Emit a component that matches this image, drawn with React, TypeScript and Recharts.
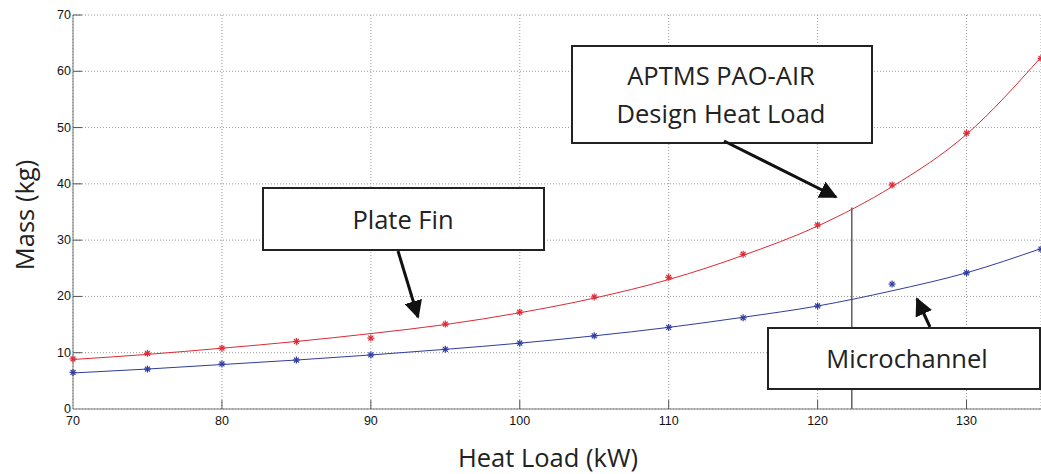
import {
  ComposedChart,
  Line,
  XAxis,
  YAxis,
  CartesianGrid,
  ReferenceLine,
} from "recharts";

// heat load steps (kW)
const heatLoad = [70, 75, 80, 85, 90, 95, 100, 105, 110, 115, 120, 125, 130, 135];

const plateFinPts = [8.9, 9.9, 10.8, 12.0, 12.6, 15.1, 17.2, 19.9, 23.4, 27.5, 32.7, 39.8, 49.0, 62.3];
const microPts = [6.5, 7.1, 8.0, 8.7, 9.6, 10.6, 11.7, 13.0, 14.5, 16.2, 18.3, 22.2, 24.2, 28.4];

// fitted curves (kg)
const plateFinFit = [8.8, 9.7, 10.8, 12.0, 13.4, 15.0, 17.1, 19.7, 23.0, 27.3, 32.5, 39.5, 48.8, 62.5];
const microFit = [6.4, 7.1, 7.9, 8.7, 9.6, 10.6, 11.7, 13.0, 14.5, 16.3, 18.3, 21.0, 24.2, 28.5];

const xTicks = [70, 80, 90, 100, 110, 120, 130];
const yTicks = [0, 10, 20, 30, 40, 50, 60, 70];

const designLoad = 122.3;
const designMass = 35.8;

const RED = "#dd2a35";
const BLUE = "#2f3c9e";

const data = heatLoad.map((x, i) => ({
  x,
  pf: plateFinPts[i],
  mc: microPts[i],
  pfFit: plateFinFit[i],
  mcFit: microFit[i],
}));

const Star = (color: string) => (props: any) => {
  const { cx, cy } = props;
  if (cx == null || cy == null) return null;
  const r = 3.5;
  const d = r * 0.7;
  return (
    <g stroke={color} strokeWidth={1.2}>
      <line x1={cx - r} y1={cy} x2={cx + r} y2={cy} />
      <line x1={cx} y1={cy - r} x2={cx} y2={cy + r} />
      <line x1={cx - d} y1={cy - d} x2={cx + d} y2={cy + d} />
      <line x1={cx - d} y1={cy + d} x2={cx + d} y2={cy - d} />
    </g>
  );
};

const XTick = (props: any) => {
  const { x, y, payload } = props;
  return (
    <g>
      {payload.value !== 70 && (
        <line x1={x} y1={409} x2={x} y2={400} stroke="#555" strokeWidth={1} />
      )}
      <text x={x} y={y + 8} textAnchor="middle" fontSize={12.5} fill="#111"
        fontFamily="Liberation Sans, Arial, sans-serif">
        {payload.value}
      </text>
    </g>
  );
};

const YTick = (props: any) => {
  const { x, y, payload } = props;
  return (
    <g>
      {payload.value !== 0 && (
        <line x1={73} y1={y} x2={82} y2={y} stroke="#555" strokeWidth={1} />
      )}
      <text x={x + 6} y={y + 4} textAnchor="end" fontSize={12.5} fill="#111"
        fontFamily="Liberation Sans, Arial, sans-serif">
        {payload.value}
      </text>
    </g>
  );
};

const labelFont = "'Open Sans', Lato, sans-serif";

export default function App() {
  return (
    <div style={{ position: "relative", width: 1041, height: 474, background: "#fff" }}>
      <style>{`body{margin:0}`}</style>
      <ComposedChart
        width={1041}
        height={474}
        data={data}
        margin={{ top: 15, right: 0, left: 33, bottom: 35 }}
      >
        <CartesianGrid stroke="#999" strokeDasharray="1 2" />
        <XAxis
          dataKey="x"
          type="number"
          domain={[70, 135]}
          ticks={xTicks}
          height={30}
          stroke="#777"
          tickLine={false}
          tick={<XTick />}
          interval={0}
        />
        <YAxis
          type="number"
          domain={[0, 70]}
          ticks={yTicks}
          width={40}
          stroke="#777"
          tickLine={false}
          tick={<YTick />}
          interval={0}
        />
        <ReferenceLine
          segment={[
            { x: designLoad, y: 0 },
            { x: designLoad, y: designMass },
          ]}
          stroke="#111"
          strokeWidth={1}
        />
        <Line dataKey="pfFit" type="monotone" stroke={RED} strokeWidth={1} dot={false} isAnimationActive={false} />
        <Line dataKey="mcFit" type="monotone" stroke={BLUE} strokeWidth={1} dot={false} isAnimationActive={false} />
        <Line dataKey="pf" stroke="none" dot={Star(RED)} activeDot={false} isAnimationActive={false} />
        <Line dataKey="mc" stroke="none" dot={Star(BLUE)} activeDot={false} isAnimationActive={false} />
      </ComposedChart>

      <svg
        width={1041}
        height={474}
        style={{ position: "absolute", left: 0, top: 0, pointerEvents: "none" }}
      >
        <defs>
          <marker id="arr" viewBox="0 0 10 10" refX="9" refY="5" markerWidth="6" markerHeight="6" orient="auto">
            <path d="M0,0 L10,5 L0,10 z" fill="#111" />
          </marker>
        </defs>

        {/* axis titles */}
        <text x={34} y={215} transform="rotate(-90 34 215)" textAnchor="middle" fontSize={25.5}
          fontFamily={labelFont} fill="#222">
          Mass (kg)
        </text>
        <text x={548} y={467} textAnchor="middle" fontSize={25.5} fontFamily={labelFont} fill="#222">
          Heat Load (kW)
        </text>

        {/* Plate Fin callout */}
        <rect x={263} y={188} width={281} height={62} fill="#fff" stroke="#222" strokeWidth={2} />
        <text x={403} y={229} textAnchor="middle" fontSize={25.5} fontFamily={labelFont} fill="#222">
          Plate Fin
        </text>
        <line x1={398} y1={251} x2={418} y2={317} stroke="#111" strokeWidth={3} markerEnd="url(#arr)" />

        {/* APTMS callout */}
        <rect x={572} y={46} width={300} height={97} fill="#fff" stroke="#222" strokeWidth={2} />
        <text x={721} y={85} textAnchor="middle" fontSize={25.5} fontFamily={labelFont} fill="#222">
          APTMS PAO-AIR
        </text>
        <text x={721} y={123} textAnchor="middle" fontSize={25.5} fontFamily={labelFont} fill="#222">
          Design Heat Load
        </text>
        <line x1={724} y1={141} x2={836} y2={197} stroke="#111" strokeWidth={3} markerEnd="url(#arr)" />

        {/* Microchannel callout */}
        <rect x={768} y={328} width={272} height={61} fill="#fff" stroke="#222" strokeWidth={2} />
        <text x={907} y={368} textAnchor="middle" fontSize={25.5} fontFamily={labelFont} fill="#222">
          Microchannel
        </text>
        <line x1={930} y1={327} x2={917} y2={299} stroke="#111" strokeWidth={3} markerEnd="url(#arr)" />
      </svg>
    </div>
  );
}
